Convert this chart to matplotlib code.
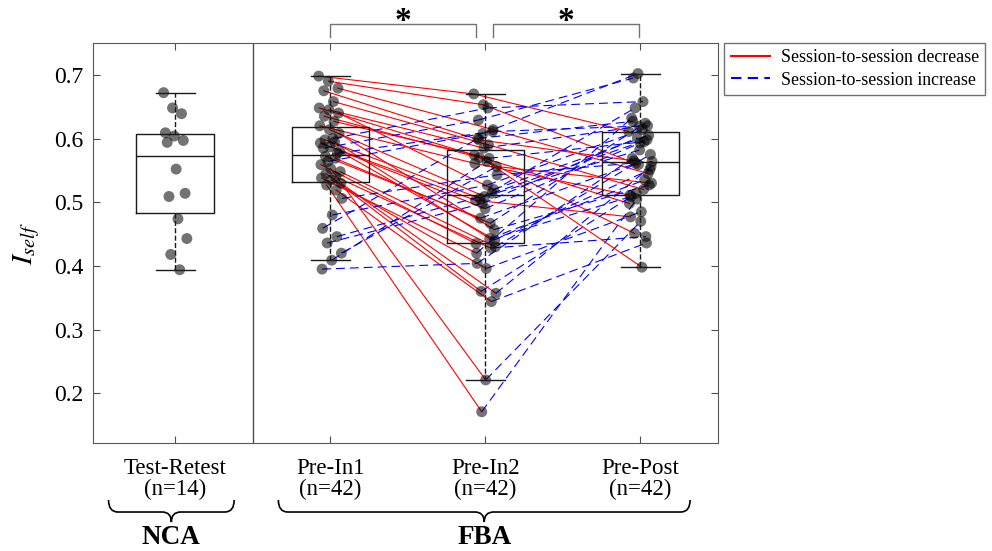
import numpy as np
import matplotlib.pyplot as plt
from matplotlib.lines import Line2D
from matplotlib.path import Path
from matplotlib.patches import PathPatch
import matplotlib.transforms as mtransforms

plt.rcParams['font.family'] = ['Liberation Serif', 'DejaVu Serif']
plt.rcParams['mathtext.fontset'] = 'stix'

# NCA group
test_retest = [0.672, 0.648, 0.639, 0.609, 0.604, 0.597, 0.594, 0.552, 0.514, 0.509,
               0.474, 0.443, 0.418, 0.394]

# FBA group, one entry per subject (same subject order in all three sessions)
pre_in1 = [0.698, 0.690, 0.679, 0.675, 0.658, 0.648, 0.645, 0.640, 0.635, 0.627,
           0.620, 0.614, 0.608, 0.598, 0.595, 0.593, 0.587, 0.580, 0.572, 0.569,
           0.559, 0.553, 0.548, 0.545, 0.540, 0.538, 0.535, 0.530, 0.527, 0.519,
           0.395, 0.409, 0.420, 0.436, 0.446, 0.459, 0.480, 0.506, 0.564, 0.577,
           0.585, 0.600]
pre_in2 = [0.670, 0.653, 0.614, 0.598, 0.590, 0.574, 0.585, 0.520, 0.570, 0.569,
           0.561, 0.509, 0.457, 0.506, 0.443, 0.503, 0.490, 0.441, 0.475, 0.467,
           0.435, 0.221, 0.430, 0.360, 0.428, 0.420, 0.396, 0.357, 0.171, 0.344,
           0.404, 0.564, 0.556, 0.498, 0.514, 0.600, 0.527, 0.543, 0.608, 0.611,
           0.629, 0.648]
pre_post = [0.611, 0.559, 0.545, 0.565, 0.520, 0.498, 0.619, 0.605, 0.451, 0.595,
            0.511, 0.582, 0.527, 0.648, 0.535, 0.477, 0.593, 0.551, 0.561, 0.624,
            0.509, 0.470, 0.575, 0.514, 0.446, 0.632, 0.485, 0.556, 0.505, 0.436,
            0.569, 0.398, 0.530, 0.601, 0.598, 0.627, 0.614, 0.564, 0.702, 0.620,
            0.695, 0.658]

tick_labels = ['Test-Retest\n(n=14)', 'Pre-In1\n(n=42)', 'Pre-In2\n(n=42)', 'Pre-Post\n(n=42)']
group_names = ['NCA', 'FBA']
legend_labels = ['Session-to-session decrease', 'Session-to-session increase']
positions = [1, 2, 3, 4]


def jitter(n, k, spread=0.15):
    # deterministic spread of points around the box centre
    return ((np.arange(n) * k) % n / (n - 1) - 0.5) * spread


fig = plt.figure(figsize=(9.92, 5.51), dpi=100)
ax = fig.add_axes([0.0938, 0.196, 0.630, 0.726])

# paired lines between sessions
fba = [pre_in1, pre_in2, pre_post]
jx = [p + jitter(42, 17) for p in positions[1:]]
for i in range(len(pre_in1)):
    for s in range(2):
        ya, yb = fba[s][i], fba[s + 1][i]
        xa, xb = jx[s][i], jx[s + 1][i]
        if yb < ya:
            ax.plot([xa, xb], [ya, yb], color='red', lw=0.8, zorder=2)
        else:
            ax.plot([xa, xb], [ya, yb], color='blue', lw=0.8, dashes=(8, 4.5), zorder=2)

# points
ax.scatter(positions[0] + jitter(14, 5), test_retest, s=62, color='k', alpha=0.55,
           edgecolors='none', zorder=3)
for s in range(3):
    ax.scatter(jx[s], fba[s], s=62, color='k', alpha=0.55, edgecolors='none', zorder=3)

ax.boxplot([test_retest, pre_in1, pre_in2, pre_post], positions=positions, widths=0.5,
           showfliers=False, capwidths=0.25, manage_ticks=False, zorder=4,
           boxprops=dict(color='0.1', lw=1),
           medianprops=dict(color='0.1', lw=1),
           whiskerprops=dict(color='0.1', lw=1, ls='--'),
           capprops=dict(color='0.1', lw=1))

ax.axvline(1.5, color='0.3', lw=1)

ax.set_xlim(0.47, 4.5)
ax.set_ylim(0.122, 0.75)
ax.set_xticks(positions)
ax.set_xticklabels(tick_labels, fontsize=16.5, linespacing=0.95)
ax.set_yticks([0.2, 0.3, 0.4, 0.5, 0.6, 0.7])
ax.set_yticklabels(['0.2', '0.3', '0.4', '0.5', '0.6', '0.7'], fontsize=17)
ax.tick_params(direction='in', length=5, top=True, right=True, color='0.3')
ax.tick_params(axis='x', pad=11)
ax.tick_params(axis='y', pad=7)
for sp in ax.spines.values():
    sp.set_color('0.35')
ax.set_ylabel(r'$I_{self}$', fontsize=21)
ax.yaxis.set_label_coords(-0.082, 0.5)

# significance brackets
for x0, x1 in [(2.0, 2.94), (3.05, 3.99)]:
    ax.plot([x0, x0, x1, x1], [0.760, 0.780, 0.780, 0.760], color='0.45', lw=1,
            clip_on=False)
    ax.text((x0 + x1) / 2, 0.759, '*', ha='center', va='bottom', fontsize=24,
            fontweight='bold', clip_on=False)

# curly braces below the tick labels
trans = mtransforms.blended_transform_factory(ax.transData, ax.transAxes)


def brace(x0, x1, y_top=-0.1425, y_mid=-0.1725, y_tip=-0.1975, r=0.06):
    xm = (x0 + x1) / 2
    verts = [(x0, y_top), (x0, y_mid), (x0 + r, y_mid), (xm - r, y_mid),
             (xm, y_mid), (xm, y_tip), (xm, y_mid), (xm + r, y_mid),
             (x1 - r, y_mid), (x1, y_mid), (x1, y_top)]
    codes = [Path.MOVETO, Path.CURVE3, Path.CURVE3, Path.LINETO,
             Path.CURVE3, Path.CURVE3, Path.CURVE3, Path.CURVE3,
             Path.LINETO, Path.CURVE3, Path.CURVE3]
    ax.add_patch(PathPatch(Path(verts, codes), fc='none', ec='k', lw=1.2,
                           transform=trans, clip_on=False))


for (x0, x1), name in zip([(0.57, 1.38), (1.665, 4.32)], group_names):
    brace(x0, x1)
    ax.text((x0 + x1) / 2, -0.237, name, transform=trans, ha='center', va='center',
            fontsize=19.5, fontweight='bold')

handles = [Line2D([], [], color='red', lw=1.5),
           Line2D([], [], color='blue', lw=1.5, dashes=(5, 3))]
leg = ax.legend(handles, legend_labels, loc='upper left', bbox_to_anchor=(1.01, 1.0),
                fontsize=12.9, frameon=True, fancybox=False, edgecolor='0.3',
                borderaxespad=0, handlelength=2.2, borderpad=0.35, labelspacing=0.3,
                handletextpad=0.6)
leg.get_frame().set_linewidth(1)

fig.savefig('out.png', dpi=100)
